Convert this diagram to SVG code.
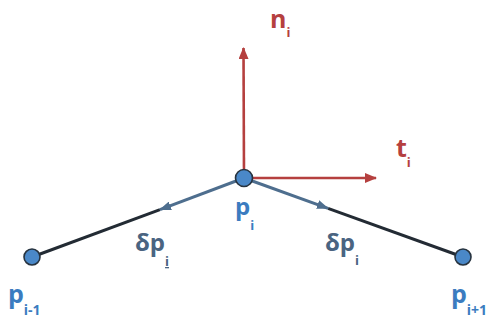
<svg xmlns="http://www.w3.org/2000/svg" width="496" height="327" viewBox="0 0 496 327">
<style>
.lbl{font-family:"Open Sans","Liberation Sans",sans-serif;font-weight:bold}
.red{fill:#b5403f}
.blue{fill:#3b7cc0}
.slate{fill:#4a6481}
.node{fill:#4a88c8;stroke:#27333f;stroke-width:1.6}
</style>
<defs>
<marker id="ra" markerWidth="12" markerHeight="10" refX="11" refY="5" orient="auto" markerUnits="userSpaceOnUse">
<path d="M0,0 L12,5 L0,10 Z" fill="#b5403f"/>
</marker>
<marker id="sa" markerWidth="12" markerHeight="9" refX="11" refY="4.5" orient="auto" markerUnits="userSpaceOnUse">
<path d="M0,0 L12,4.5 L0,9 Z" fill="#4e6e8e"/>
</marker>
</defs>
<g id="connectors">
<line x1="244" y1="178" x2="243.5" y2="48" stroke="#b5403f" stroke-width="2.6" marker-end="url(#ra)"/>
<line x1="244" y1="178" x2="376" y2="178" stroke="#b5403f" stroke-width="2.6" marker-end="url(#ra)"/>
<line x1="160" y1="209.7" x2="32" y2="257" stroke="#232b34" stroke-width="3"/>
<line x1="244" y1="178" x2="160" y2="209.7" stroke="#4e6e8e" stroke-width="3" marker-end="url(#sa)"/>
<line x1="328" y1="208.3" x2="463" y2="257" stroke="#232b34" stroke-width="3"/>
<line x1="244" y1="178" x2="328" y2="208.3" stroke="#4e6e8e" stroke-width="3" marker-end="url(#sa)"/>
</g>
<g id="node-pim1"><circle class="node" cx="32" cy="257" r="8"/></g>
<g id="node-pip1"><circle class="node" cx="463" cy="257" r="8"/></g>
<g id="node-pi"><circle class="node" cx="244" cy="178" r="8.5"/></g>
<g id="labels">
<text class="lbl red" x="270" y="28" font-size="25">n<tspan font-size="13" dy="9">i</tspan></text>
<text class="lbl red" x="396" y="157" font-size="25">t<tspan font-size="13" dy="10">i</tspan></text>
<text class="lbl blue" x="235" y="215" font-size="24">p<tspan font-size="13" dy="15">i</tspan></text>
<text class="lbl slate" x="135" y="251" font-size="24">δp<tspan font-size="13" dy="15" text-decoration="underline">i</tspan></text>
<text class="lbl slate" x="325" y="251" font-size="24">δp<tspan font-size="13" dy="14">i</tspan></text>
<text class="lbl blue" x="8" y="303" font-size="25">p<tspan font-size="14" dy="12">i-1</tspan></text>
<text class="lbl blue" x="451" y="303" font-size="25">p<tspan font-size="14" dy="12">i+1</tspan></text>
</g>
</svg>
